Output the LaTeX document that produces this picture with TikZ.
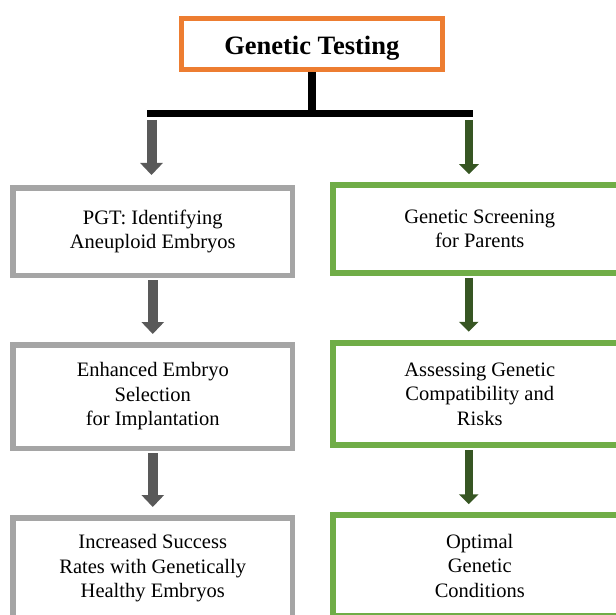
\documentclass[tikz,border=0pt]{standalone}
\usepackage{fontspec}
\setmainfont{Liberation Serif}
\usetikzlibrary{arrows.meta, positioning, calc}
\definecolor{testorange}{RGB}{237,125,49}
\definecolor{pgtgray}{RGB}{165,165,165}
\definecolor{pgtarrow}{RGB}{89,89,89}
\definecolor{parentgreen}{RGB}{112,173,71}
\definecolor{parentarrow}{RGB}{55,86,35}

\begin{document}
\begin{tikzpicture}[
    x=1pt, y=1pt,
    node distance=64pt,
    headbox/.style={rectangle, draw=testorange, line width=5pt, minimum width=260.5pt, minimum height=51.5pt, inner sep=0pt, text height=21pt, text depth=0pt, font=\bfseries\fontsize{26.5}{30}\selectfont},
    block/.style={rectangle, draw, line width=5.5pt, align=center, minimum height=87.5pt, font=\fontsize{20.5}{24.5}\selectfont},
    pgt/.style={block, draw=pgtgray, minimum width=279.5pt},
    parent/.style={block, draw=parentgreen, line width=6pt, minimum width=293pt},
    branch/.style={line width=7pt},
    pgtflow/.style={-{Triangle[width=22pt, length=12pt]}, line width=10pt, pgtarrow},
    parentflow/.style={-{Triangle[width=19pt, length=10pt]}, line width=8pt, parentarrow},
    boxgap/.style={shorten <=2pt, shorten >=8pt}
]
    \clip (0,0) rectangle (616,-615);

    % Top: testing
    \node[headbox] (test) at (311.75,-44.25) {Genetic Testing};

    % Left column: PGT
    \node[pgt] (ls1) at (152.75,-231.5) {PGT: Identifying\\Aneuploid Embryos};
    \node[pgt, below=of ls1, minimum height=103.5pt] (ls2) {Enhanced Embryo\\Selection\\for Implantation};
    \node[pgt, below=of ls2, minimum height=101pt] (ls3) {Increased Success\\Rates with Genetically\\Healthy Embryos};

    % Right column: parents
    \node[parent, right=35pt of ls1, yshift=2.5pt] (rs1) {Genetic Screening\\for Parents};
    \node[parent, below=of rs1, minimum height=102.5pt] (rs2) {Assessing Genetic\\Compatibility and\\Risks};
    \node[parent, below=of rs2, minimum height=101pt] (rs3) {Optimal\\Genetic\\Conditions};

    % Branching
    \coordinate (barL) at (147,-113.5);
    \coordinate (barR) at (473,-113.5);
    \coordinate (dropL) at ([xshift=4.5pt, yshift=-6.5pt]barL);
    \coordinate (dropR) at ([xshift=-4pt, yshift=-6.5pt]barR);
    \draw[line width=8pt] (test.south) -- (test.south |- barL);
    \draw[branch] (barL) -- (barR);

    % Connections
    \draw[pgtflow, shorten >=10pt] (dropL) -- (dropL |- ls1.north);
    \draw[parentflow, shorten >=8pt] (dropR) -- (dropR |- rs1.north);
    \draw[pgtflow, boxgap] (ls1.south) -- (ls2.north);
    \draw[pgtflow, boxgap] (ls2.south) -- (ls3.north);
    \draw[parentflow, boxgap] ([xshift=-11pt]rs1.south) -- ([xshift=-11pt]rs2.north);
    \draw[parentflow, boxgap] ([xshift=-11pt]rs2.south) -- ([xshift=-11pt]rs3.north);
\end{tikzpicture}
\end{document}
